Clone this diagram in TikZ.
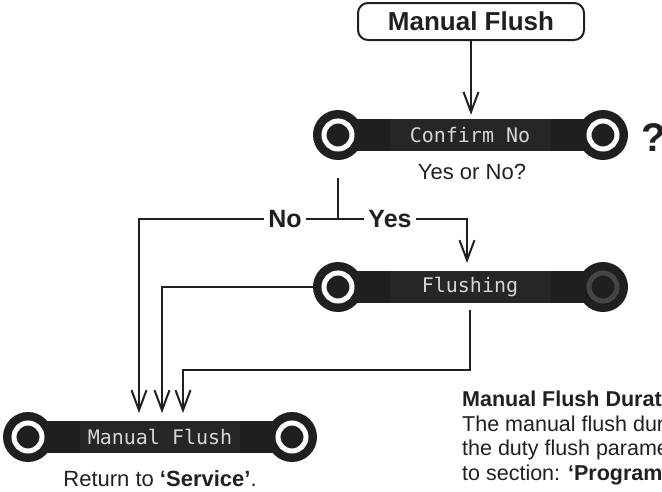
\documentclass[tikz,border=0pt]{standalone}
\usepackage{fontspec}
\setmainfont{Liberation Sans}
\newfontfamily\lcdfont{DejaVu Sans Mono}
\usetikzlibrary{arrows.meta}

\definecolor{ink}{HTML}{231F20}
\definecolor{barcol}{HTML}{1F1F1F}
\definecolor{lcdcol}{HTML}{262626}
\definecolor{dimring}{HTML}{454545}
\definecolor{lcdtext}{HTML}{D6D6D6}

\tikzset{
  knob/.style={circle,fill=barcol,minimum size=50pt,inner sep=0pt},
  ring/.style={circle,draw=#1,line width=5pt,minimum size=28pt,inner sep=0pt},
  ring/.default=white,
  bar/.style={rectangle,fill=barcol,minimum width=264pt,minimum height=32pt,inner sep=0pt},
  lcd/.style={rectangle,fill=lcdcol,minimum width=160pt,minimum height=32pt,inner sep=0pt,
    text=lcdtext,font=\lcdfont\fontsize{20}{20}\selectfont},
  caption/.style={text=ink,inner sep=1pt,font=\fontsize{22}{24.5}\selectfont},
  choice/.style={text=ink,inner sep=4pt,font=\bfseries\fontsize{25}{25}\selectfont},
  flow/.style={draw=ink,line width=2pt},
  into/.style={flow,-{Straight Barb[length=20pt,width=15pt]}},
}

\begin{document}
\begin{tikzpicture}[x=1pt,y=-1pt]
	\useasboundingbox (0,0) rectangle (662,491);
	\clip (0,0) rectangle (662,491);
	
	% Title box
	\node[draw=ink,line width=2pt,rounded corners=10pt,minimum width=226pt,minimum height=37pt,
	  inner sep=0pt,text=ink,font=\bfseries\fontsize{26}{26}\selectfont] (title) at (471,21.5) {Manual Flush};
	
	% Confirm display
	\node[bar] (cbar) at (470,135) {};
	\node[knob] (cleft) at (338,135) {};
	\node[knob] (cright) at (603,135) {};
	\node[ring] (cleftring) at (cleft) {};
	\node[ring] (crightring) at (cright) {};
	\node[lcd] (confirm) at (470,135) {Confirm No};
	\node[caption] (yesno) at (472,172) {Yes or No?};
	\node[text=ink,inner sep=1pt,font=\bfseries\fontsize{40}{40}\selectfont] (ask) at (654,138) {?};
	
	% Flushing display
	\node[bar] (fbar) at (470,287) {};
	\node[knob] (fleft) at (338,287) {};
	\node[knob] (fright) at (603,287) {};
	\node[ring] (fleftring) at (fleft) {};
	\node[ring=dimring] (frightring) at (fright) {};
	\node[lcd] (flush) at (470,287) {Flushing};
	
	% Manual Flush display
	\node[bar] (mbar) at (160,437) {};
	\node[knob] (mleft) at (28,437) {};
	\node[knob] (mright) at (292,437) {};
	\node[ring] (mleftring) at (mleft) {};
	\node[ring] (mrightring) at (mright) {};
	\node[lcd] (manual) at (160,437) {Manual Flush};
	\node[caption] (back) at (160,479) {Return to \textbf{`Service'}.};
	
	% Note, cut at the page edge
	\node[caption,anchor=north west,align=left,inner sep=0pt,font=\fontsize{21.5}{24.5}\selectfont] (note) at (462,391)
	  {\textbf{Manual Flush Durat}\\The manual flush dur\\the duty flush parame\\to section: \textbf{`Programm}};
	
	% Choice
	\coordinate (stem) at (338,178);
	\coordinate (fork) at (338,219);
	\node[choice] (no) at (285,219) {No};
	\node[choice] (yes) at (390,219) {Yes};
	
	% Arrow ends
	\coordinate (fin) at (467,263);
	\coordinate (in1) at (139,413);
	\coordinate (in2) at (162,413);
	\coordinate (in3) at (183,413);
	
	% Connectors
	\draw[into,shorten >=4pt] (title.south) -- (title.south |- confirm.north);
	\draw[flow] (stem) -- (fork);
	\draw[flow] (no) -- (yes);
	\draw[into] (yes) -| (fin);
	\draw[into] (no) -| (in1);
	\draw[into] (fleft) -| (in2);
	\draw[into] ([yshift=-7pt]flush.south) -- ++(0,60) -| (in3);
\end{tikzpicture}
\end{document}
